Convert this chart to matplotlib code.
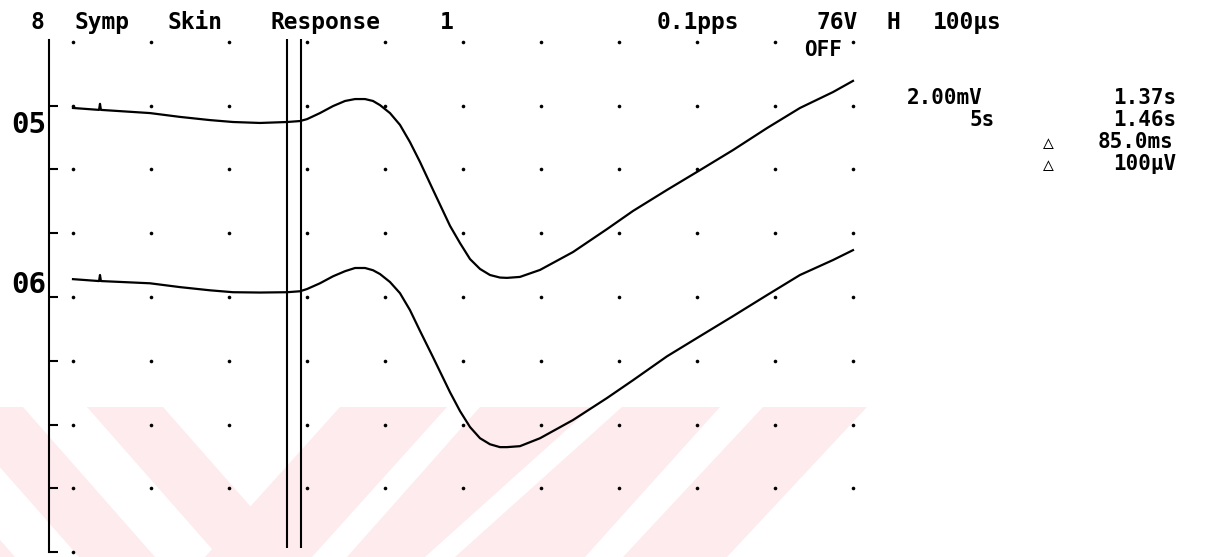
import matplotlib
matplotlib.use("Agg")
import matplotlib.pyplot as plt
from matplotlib.patches import Polygon
import numpy as np

# sweep time (s) of the read-off points, shared by both channels
t = [0.000, 0.167, 0.173, 0.179, 0.494, 0.686, 0.878, 1.026, 1.199, 1.372,
     1.455, 1.500, 1.583, 1.667, 1.744, 1.808, 1.872, 1.923, 1.968, 2.032,
     2.096, 2.160, 2.224, 2.308, 2.417, 2.481, 2.545, 2.609, 2.673, 2.737,
     2.782, 2.865, 2.994, 3.205, 3.423, 3.590, 3.808, 4.019, 4.231, 4.449,
     4.660, 4.872, 5.000]

# channel 05, mV relative to first sample
ch05 = [0.00, -0.06, 0.13, -0.06, -0.16, -0.28, -0.38, -0.44, -0.47, -0.44,
        -0.41, -0.35, -0.16, 0.06, 0.22, 0.28, 0.28, 0.22, 0.09, -0.16,
        -0.53, -1.07, -1.69, -2.57, -3.70, -4.24, -4.74, -5.05, -5.24, -5.32,
        -5.33, -5.30, -5.08, -4.52, -3.80, -3.23, -2.57, -1.95, -1.32, -0.63,
        0.00, 0.50, 0.85]

# channel 06, mV relative to first sample
ch06 = [0.00, -0.06, 0.13, -0.06, -0.13, -0.25, -0.35, -0.41, -0.42, -0.41,
        -0.38, -0.31, -0.13, 0.09, 0.25, 0.35, 0.35, 0.28, 0.16, -0.09,
        -0.44, -0.97, -1.62, -2.45, -3.55, -4.14, -4.64, -4.99, -5.18, -5.27,
        -5.27, -5.24, -4.99, -4.42, -3.73, -3.17, -2.42, -1.79, -1.16, -0.50,
        0.13, 0.60, 0.91]

offsets = [13.93, 8.56]          # trace start level, mV above bottom gridline
labels = ["05", "06"]
cursors = [1.37, 1.46]           # s

sens = 2.0                       # mV / div
sweep = 0.5                      # s / div

W, H = 1208, 557
fig = plt.figure(figsize=(W / 100, H / 100), dpi=100)

# background layer in pixel units (watermark + printed text)
bg = fig.add_axes([0, 0, 1, 1])
bg.set_xlim(0, W)
bg.set_ylim(H, 0)
bg.axis("off")

pink = "#fdebee"
y0, y1 = 407, 557
# watermark strokes: x at top edge, x at bottom edge
strokes = [(-250, -117, -118, 15), (-53, 23, 79, 155), (87, 163, 219, 295),
           (340, 447, 205, 312), (480, 592, 347, 425), (622, 720, 455, 585),
           (763, 867, 623, 727)]
for a, b, c, d in strokes:
    bg.add_patch(Polygon([(a, y0), (b, y0), (d, y1), (c, y1)], closed=True,
                         facecolor=pink, edgecolor="none", zorder=0))

mono = dict(family=["DejaVu Sans Mono", "DejaVu Sans"], fontweight="bold",
            color="black", va="baseline", ha="center")


def mono_line(x0, base, line, pitch, size):
    i = 0
    for word in line.split(" "):
        if word:
            bg.text(x0 + (i + len(word) / 2) * pitch, base, word, fontsize=size, **mono)
        i += len(word) + 1


def word_right(xr, base, word, pitch, size):
    bg.text(xr - len(word) * pitch / 2, base, word, fontsize=size, **mono)


head = "8 Symp Skin Response  1" + " " * 10 + "0.1pps   76V H 100µs"
mono_line(28, 29, head, 18.6, 16.5)
bg.text(823, 56, "OFF", fontsize=15, **mono)

fs = 15
rows = [104, 126, 148, 170]
mono_line(890, rows[0], "2.00mV", 18.3, fs)
word_right(1190, rows[0], "1.37s", 18.3, fs)
word_right(1000, rows[1], "5s", 18.3, fs)
word_right(1190, rows[1], "1.46s", 18.3, fs)
word_right(1190, rows[2], "85.0ms", 18.3, fs)
word_right(1190, rows[3], "100µV", 18.3, fs)
for base in rows[2:]:
    bg.text(1048, base, "△", fontsize=13, **mono)

bg.text(46, 133, labels[0], fontsize=21, family="DejaVu Sans Mono", fontweight="bold",
        ha="right", va="baseline")
bg.text(46, 293, labels[1], fontsize=21, family="DejaVu Sans Mono", fontweight="bold",
        ha="right", va="baseline")

# data layer: seconds vs mV
px_t = 78.0 / sweep
px_v = 63.75 / sens
ax = fig.add_axes([0, 0, 1, 1])
ax.patch.set_alpha(0)
ax.set_xlim(-73 / px_t, (W - 73) / px_t)
ax.set_ylim(-5 / px_v, 552 / px_v)

# dotted graticule
gt = np.arange(0, 10 * sweep + 1e-9, sweep)
gv = np.arange(sens, 8 * sens + 1e-9, sens)
TT, VV = np.meshgrid(gt, gv)
ax.plot(TT.ravel(), VV.ravel(), "o", ms=2.6, color="black", mec="none")
ax.plot([0], [0], "o", ms=2.6, color="black", mec="none")

for off, tr in zip(offsets, [ch05, ch06]):
    ax.plot(t, np.array(tr) + off, color="black", lw=1.6, solid_joinstyle="round")

ax.vlines(cursors, 0.12, 16.1, color="black", lw=1.5)

for s in ["top", "right", "bottom"]:
    ax.spines[s].set_visible(False)
ax.spines["left"].set_position(("data", -24 / px_t))
ax.spines["left"].set_bounds(0, 16.06)
ax.spines["left"].set_linewidth(1.5)
ax.set_xticks([])
ax.set_yticks(np.arange(0, 8 * sens, sens))
ax.tick_params(axis="y", direction="in", length=6.5, width=1.5, labelleft=False)

fig.savefig("out.png", dpi=100)
